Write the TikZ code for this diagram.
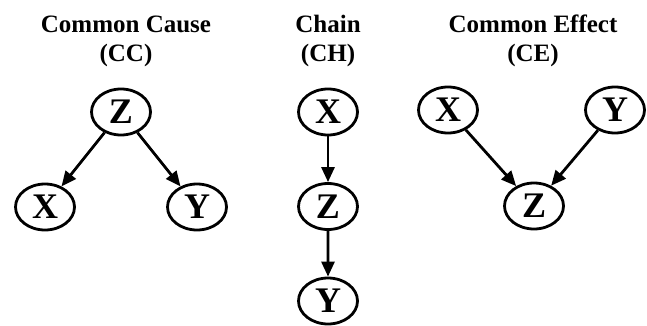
\documentclass[tikz,border=0pt]{standalone}
\usepackage{fontspec}
\setmainfont{Liberation Serif}
\usetikzlibrary{arrows.meta, shapes.geometric}
\begin{document}
\begin{tikzpicture}[
        x=1pt, y=-1pt,
        >={Triangle[length=15pt,width=13pt]},
        varn/.style={draw, ellipse, inner sep=0pt, minimum width=59pt, minimum height=46pt,
            line width=2.8pt, font=\fontsize{36}{36}\selectfont\bfseries},
        titlen/.style={align=center, inner sep=0pt, font=\fontsize{25}{29}\selectfont\bfseries},
        edge from parent/.style={draw, ->, line width=2.8pt},
        arc/.style={->, line width=2.8pt},
    ]
    \useasboundingbox (0,0) rectangle (647,326);
    % titles
    \node[titlen](cc-title) at (126,41){Common Cause\\(CC)};
    \node[titlen](ch-title) at (328,41){Chain\\(CH)};
    \node[titlen](ce-title) at (533,41){Common Effect\\(CE)};
    % common cause
    \node[varn](cc-z) at (121,112){Z}
    [level distance=95pt, sibling distance=152pt]
    child{node[varn](cc-x){X}}
    child{node[varn](cc-y){Y}}
    ;
    % chain
    \node[varn](ch-x) at (328,112){X}
    [level distance=94.5pt]
    child{node[varn](ch-z){Z}
        child{node[varn](ch-y){Y}}
    }
    ;
    % common effect
    \node[varn](ce-x) at (448,110){X};
    \node[varn](ce-y) at (615,110){Y};
    \node[varn](ce-z) at (534,206){Z};
    \draw[arc] (ce-x) -- (ce-z);
    \draw[arc] (ce-y) -- (ce-z);
\end{tikzpicture}
\end{document}
